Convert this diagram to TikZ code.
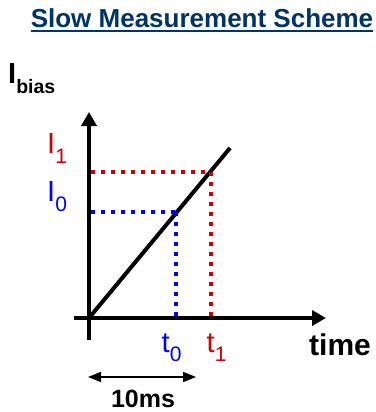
\documentclass[tikz,border=0pt]{standalone}
\usepackage{fontspec}
\setmainfont{Liberation Sans}
\usetikzlibrary{arrows.meta}
\definecolor{titleblue}{RGB}{0,51,102}
\definecolor{measred}{RGB}{204,0,0}
\definecolor{measblue}{RGB}{0,0,255}

% label with a lowered index
\newcommand{\lowsub}[3]{#1\raisebox{#3}{\fontsize{21}{21}\selectfont #2}}

\begin{document}
\begin{tikzpicture}[x=1pt,y=-1pt,
    axis/.style={line width=4pt, -{Triangle[length=14pt,width=15pt]}},
    guide/.style={line width=4pt, line cap=butt, dash pattern=on 4pt off 6pt},
    lbl/.style={inner sep=0pt, anchor=base west, font=\fontsize{29}{29}\selectfont}]
      \useasboundingbox (0,0) rectangle (375,412);

      % Title
      \node[inner sep=0pt, anchor=base, text=titleblue, font=\bfseries\fontsize{26}{30}\selectfont] (title) at (202,28) {Slow Measurement Scheme};
      \draw[titleblue, line width=2pt] ([yshift=-3pt]title.base west) -- ([yshift=-3pt]title.base east);

      % Axes
      \coordinate (ybot) at (89,340);
      \coordinate (ytop) at (89,112);
      \coordinate (xleft) at (74,318);
      \coordinate (xright) at (326,318);
      \draw[axis] (ybot) -- (ytop);
      \draw[axis] (xleft) -- (xright);

      % Ramp
      \coordinate (O) at (89,318);
      \coordinate (ramp) at (230,148);
      \draw[line width=4pt] (O) -- (ramp);

      % Measurement points
      \coordinate (P1) at (211,172);
      \coordinate (P0) at (176,212);
      \coordinate (I1) at (91,172);
      \coordinate (I0) at (91,212);
      \coordinate (T1) at (211,316);
      \coordinate (T0) at (176,316);
      \draw[guide, measred] (I1) -- (P1);
      \draw[guide, measred] (P1) -- (T1);
      \draw[guide, measblue] (I0) -- (P0);
      \draw[guide, measblue] (P0) -- (T0);

      % Labels
      \node[lbl, text=measred] (lI1) at (47,153) {\lowsub{I}{1}{-10pt}};
      \node[lbl, text=measblue] (lI0) at (47,201) {\lowsub{I}{0}{-10pt}};
      \node[lbl, text=measblue] (lt0) at (161.5,352) {\lowsub{t}{0}{-9pt}};
      \node[lbl, text=measred] (lt1) at (206.5,352) {\lowsub{t}{1}{-9pt}};
      \node[inner sep=0pt, anchor=base west, font=\bfseries\fontsize{29}{29}\selectfont] (ylabel) at (8,83) {I\raisebox{-10pt}{\fontsize{19.5}{20}\selectfont bias}};
      \node[inner sep=0pt, anchor=base west, font=\bfseries\fontsize{30}{30}\selectfont] (xlabel) at (309,355) {time};

      % 10ms span
      \coordinate (spanL) at (88,377);
      \coordinate (spanR) at (196,377);
      \draw[line width=1.6pt, {Triangle[length=13pt,width=10pt]}-{Triangle[length=13pt,width=10pt]}] (spanL) -- (spanR);
      \node[inner sep=0pt, anchor=base, font=\bfseries\fontsize{25}{25}\selectfont] (span) at (143,407) {10ms};
\end{tikzpicture}
\end{document}
